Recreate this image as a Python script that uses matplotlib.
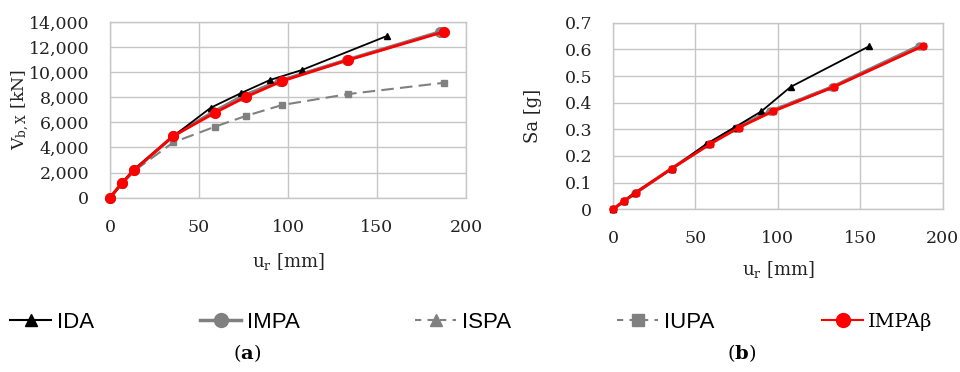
import matplotlib
matplotlib.use("Agg")
import matplotlib.pyplot as plt
from matplotlib.lines import Line2D
from matplotlib.ticker import FuncFormatter

# ---------------- data ----------------
sa_levels = [0, 0.0306, 0.0612, 0.153, 0.245, 0.306, 0.367, 0.459, 0.612]

ida_u = [0, 6.5, 13, 36, 56.6, 73.4, 89.9, 107.7, 155.5]
ida_v = [0, 1130, 2200, 4950, 7170, 8320, 9380, 10170, 12880]

impa_u = [0, 6.6, 13.6, 35.6, 58, 74.5, 95.5, 133, 185.5]
impa_v = [0, 1145, 2205, 4920, 6830, 8090, 9320, 10980, 13220]

ispa_u = [0, 6.6, 13.6, 35.6, 57.5, 73.5, 94, 132.5, 185]
ispa_v = [0, 1140, 2200, 4910, 6800, 8060, 9290, 10960, 13200]

iupa_u = [0, 6.6, 13.7, 35.6, 59, 76.2, 96.8, 133.9, 187.8]
iupa_v = [0, 1100, 2150, 4410, 5660, 6510, 7390, 8260, 9160]

impab_u = [0, 6.6, 13.7, 35.6, 59, 76.2, 96.8, 133.9, 187.8]
impab_v = [0, 1150, 2210, 4920, 6770, 8020, 9300, 10970, 13230]

x_ticks = [0, 50, 100, 150, 200]
v_ticks = [0, 2000, 4000, 6000, 8000, 10000, 12000, 14000]
sa_ticks = [0, 0.1, 0.2, 0.3, 0.4, 0.5, 0.6, 0.7]

series_names = ["IDA", "IMPA", "ISPA", "IUPA", "IMPAβ"]

# ---------------- style ----------------
SERIF = "DejaVu Serif"
plt.rcParams["mathtext.fontset"] = "dejavuserif"
GRID = "#c6c6c6"
GRAY = "#808080"
TXT = "#222222"
TICK_FS = 12.5

fig = plt.figure(figsize=(9.6, 3.72), dpi=100)
axL = fig.add_axes([110 / 960, 1 - 197.7 / 372, 356 / 960, 175.7 / 372])
axR = fig.add_axes([613 / 960, 1 - 209.3 / 372, 329.7 / 960, 186.6 / 372])


def style_axes(ax):
    ax.grid(True, color=GRID, linewidth=1.0)
    ax.set_axisbelow(True)
    for s in ax.spines.values():
        s.set_color(GRID)
        s.set_linewidth(1.0)
    ax.tick_params(length=0, labelsize=TICK_FS, pad=15)
    for lab in ax.get_xticklabels() + ax.get_yticklabels():
        lab.set_fontfamily(SERIF)
        lab.set_color(TXT)


def draw(ax, y_ida, y_impa, y_ispa, y_iupa, y_b, ms_red, ms_tri):
    ax.plot(iupa_u, y_iupa, color=GRAY, lw=1.5, ls=(0, (6, 3)), marker="s", ms=4, zorder=3)
    ax.plot(ispa_u, y_ispa, color=GRAY, lw=1.5, ls=(0, (6, 3)), marker="^", ms=ms_tri, zorder=3)
    ax.plot(impa_u, y_impa, color=GRAY, lw=2.4, marker="o", ms=ms_red, zorder=3)
    ax.plot(ida_u, y_ida, color="black", lw=1.3, marker="^", ms=ms_tri, zorder=4)
    ax.plot(impab_u, y_b, color="red", lw=2.0, marker="o", ms=ms_red, zorder=5)


draw(axL, ida_v, impa_v, ispa_v, iupa_v, impab_v, 7.0, 4.5)
draw(axR, sa_levels, sa_levels, sa_levels, sa_levels, sa_levels, 5.0, 4.5)

axL.set_xlim(0, 200)
axL.set_ylim(0, 14000)
axL.set_xticks(x_ticks)
axL.set_yticks(v_ticks)
axL.yaxis.set_major_formatter(FuncFormatter(lambda v, p: f"{int(v):,}"))

axR.set_xlim(0, 200)
axR.set_ylim(0, 0.7)
axR.set_xticks(x_ticks)
axR.set_yticks(sa_ticks)
axR.yaxis.set_major_formatter(FuncFormatter(lambda v, p: "0" if v == 0 else f"{v:.1f}"))

for ax in (axL, axR):
    for ln in ax.lines:
        ln.set_clip_on(False)
    style_axes(ax)

axL.set_xlabel(r"u$_{\rm r}$ [mm]", fontfamily=SERIF, fontsize=13, color=TXT)
axR.set_xlabel(r"u$_{\rm r}$ [mm]", fontfamily=SERIF, fontsize=13, color=TXT)
axL.set_ylabel(r"V$_{\rm b,X}$ [kN]", fontfamily=SERIF, fontsize=12.5, color=TXT)
axR.set_ylabel("Sa [g]", fontfamily=SERIF, fontsize=13, color=TXT)
axL.xaxis.set_label_coords(0.5, (197.7 - 262) / 175.7, transform=axL.transAxes)
axR.xaxis.set_label_coords(0.5, (209.3 - 270) / 186.6, transform=axR.transAxes)
axL.yaxis.set_label_coords((21 - 110) / 356, 0.5, transform=axL.transAxes)
axR.yaxis.set_label_coords((533 - 613) / 329.7, 0.5, transform=axR.transAxes)
axL.xaxis.label.set_va("center")
axR.xaxis.label.set_va("center")
axL.yaxis.label.set_va("center")
axR.yaxis.label.set_va("center")

# ---------------- legend (separate entries) ----------------
handles = [
    Line2D([], [], color="black", lw=1.5, marker="^", ms=8),
    Line2D([], [], color=GRAY, lw=2.5, marker="o", ms=10),
    Line2D([], [], color=GRAY, lw=1.5, ls=(0, (3, 3)), marker="^", ms=9),
    Line2D([], [], color=GRAY, lw=1.5, ls=(0, (3, 3)), marker="s", ms=9),
    Line2D([], [], color="red", lw=1.5, marker="o", ms=10),
]
leg_x = [10, 200, 415, 617, 822]
fonts = [("Liberation Sans", 16)] * 4 + [(SERIF, 14)]
for h, name, x, (fam, fs) in zip(handles, series_names, leg_x, fonts):
    fig.legend(handles=[h], labels=[name], loc="center left",
               bbox_to_anchor=(x / 960, 1 - 322 / 372), frameon=False,
               borderpad=0, borderaxespad=0, handlelength=41 / (fs * 100 / 72),
               handletextpad=0.25, prop={"family": fam, "size": fs})

fig.text(247 / 960, 1 - 353 / 372, r"($\mathbf{a}$)", ha="center", va="center",
         fontfamily=SERIF, fontsize=14)
fig.text(742 / 960, 1 - 353 / 372, r"($\mathbf{b}$)", ha="center", va="center",
         fontfamily=SERIF, fontsize=14)

fig.savefig("out.png", dpi=100)
